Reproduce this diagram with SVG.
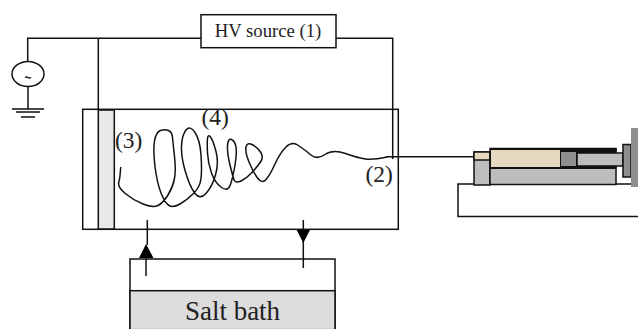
<svg xmlns="http://www.w3.org/2000/svg" width="638" height="329" viewBox="0 0 638 329">
<style>
.l{fill:none;stroke:#111;stroke-width:1.5}
.t{font-family:"Liberation Serif",serif;fill:#222}
.n{font-size:23.500px}
.s{stroke:#111;stroke-width:1.5}
</style>
<rect width="638" height="329" fill="#fff"/>
<g id="connectors">
<path class="l" d="M201 38.300H27.700V62M28 86V109M336 38.300H392.700V159M98.300 38.300V109"/>
<path class="l" d="M386 156.700H474"/>
<path class="l" d="M147.300 220V245M146 258V276M303.300 220V268"/>
<path d="M146 244L139 258H153.500ZM303.300 243L296.700 230H310Z" fill="#000"/>
<path class="l" d="M120.700 167L120.300 172.500Q120 178 118.750 182.500Q117.500 187 125.250 193.500Q133 200 143 204Q153 208 158 205.500Q163 203 168 195Q173 187 174.500 178.500Q176 170 174.500 156.500Q173 143 172.500 137.500Q172 132 168.500 130.500Q165 129 160.500 130.500Q156 132 154.500 141Q153 150 155 166.500Q157 183 161 193Q165 203 169 205.500Q173 208 180 204Q187 200 193.500 193.500Q200 187 201 178.500Q202 170 201 155Q200 140 195 132.500Q190 125 186 130Q182 135 181.500 146Q181 157 185.500 172Q190 187 195 193.500Q200 200 206 193.500Q212 187 215.500 175Q219 163 216 151.500Q213 140 210.500 137Q208 134 207.500 138.500Q207 143 207.500 153Q208 163 211.500 173Q215 183 221.500 187.500Q228 192 230.500 184.500Q233 177 235 165Q237 153 236 147Q235 141 231.500 139.500Q228 138 227.500 145.500Q227 153 229.500 163Q232 173 233.500 178.500Q235 184 241 181Q247 178 252 172.500Q257 167 260.500 162Q264 157 260.500 152Q257 147 252 144.500Q247 142 246 147Q245 152 249 162Q253 172 257.500 178Q262 184 266 179.500Q270 175 275 164Q280 153 286 147Q292 141 298.500 145.500Q305 150 311 155Q317 160 325 154.500Q333 149 345.500 153.500Q358 158 365.500 159Q373 160 387 157"/>
</g>
<g id="hv-source">
<rect x="201" y="14.700" width="135" height="33" fill="#fff" stroke="#111" stroke-width="1.500"/>
<text class="t" x="268" y="37" text-anchor="middle" font-size="18.700">HV source (1)</text>
</g>
<g id="ac-ground">
<ellipse cx="28" cy="74" rx="16" ry="12.500" fill="#fff" stroke="#111" stroke-width="1.500"/>
<path class="l" d="M25 77.500q1.500 -1 3 0t3 0"/>
<path class="l" d="M12 109H44M16 112H40M21 117H35"/>
</g>
<g id="chamber">
<rect x="82.700" y="109.300" width="315.600" height="120" fill="none" stroke="#111" stroke-width="1.500"/>
<rect x="98.300" y="110" width="16" height="119" fill="#e8e8e8" stroke="#111" stroke-width="1.500"/>
<text class="t n" x="115" y="148">(3)</text>
<text class="t n" x="201.500" y="125">(4)</text>
<text class="t n" x="365.500" y="182">(2)</text>
</g>
<g id="salt-bath">
<rect x="130" y="259" width="205" height="70" fill="none" stroke="#111" stroke-width="1.500"/>
<rect x="130" y="290.700" width="205" height="39" fill="#dcdcdc" stroke="#111" stroke-width="1.500"/>
<text class="t" x="232.500" y="320" text-anchor="middle" font-size="27">Salt bath</text>
</g>
<g id="syringe">
<path class="l" d="M474 184H458V216.500H638M616 184H631"/>
<rect x="474" y="152" width="16" height="33" fill="#bdbdbd" class="s"/>
<rect x="474" y="152" width="16" height="8" fill="#e5d8bd" class="s"/>
<rect x="490" y="148.500" width="126" height="36" fill="#bdbdbd" class="s"/>
<rect x="490" y="148" width="126.500" height="21" fill="#111"/>
<rect x="491" y="150" width="69" height="17" fill="#e5d9bf"/>
<rect x="561" y="152" width="15" height="14" fill="#8e8e8e"/>
<rect x="577" y="153" width="46" height="13" fill="#bdbdbd" class="s"/>
<rect x="623" y="144.500" width="8" height="32.500" fill="#8e8e8e" class="s"/>
<rect x="631" y="128" width="7" height="59" fill="#8e8e8e"/>
</g>
</svg>
